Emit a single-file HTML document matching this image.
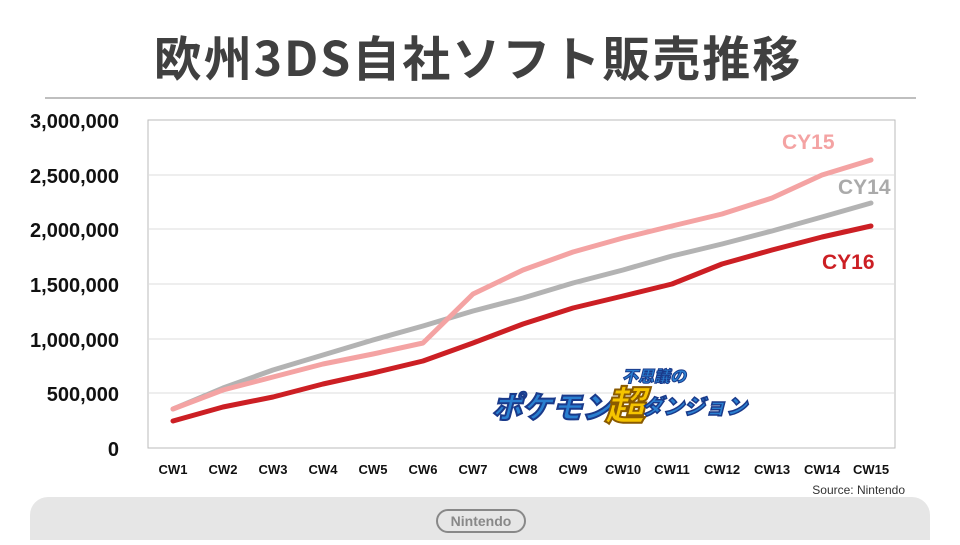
<!DOCTYPE html>
<html><head><meta charset="utf-8"><style>
body{margin:0;width:960px;height:540px;background:#fff;overflow:hidden;font-family:"Liberation Sans","Noto Sans CJK JP",sans-serif;}
</style></head><body>
<svg width="960" height="540" xmlns="http://www.w3.org/2000/svg" font-family="Liberation Sans, Noto Sans CJK JP, sans-serif">
<text x="478" y="76" text-anchor="middle" font-size="48" font-weight="bold" fill="#404040" letter-spacing="2" font-family="Noto Sans CJK JP, sans-serif">欧州3DS自社ソフト販売推移</text>
<line x1="45" y1="98" x2="916" y2="98" stroke="#aaa" stroke-width="1.5"/>
<rect x="148" y="120" width="747" height="328" fill="none" stroke="#bbb" stroke-width="1"/>
<g stroke="#ddd" stroke-width="1">
<line x1="148" y1="175" x2="895" y2="175"/><line x1="148" y1="229" x2="895" y2="229"/><line x1="148" y1="284" x2="895" y2="284"/><line x1="148" y1="339" x2="895" y2="339"/><line x1="148" y1="393" x2="895" y2="393"/></g>
<g font-size="20" font-weight="bold" fill="#111" text-anchor="end">
<text x="119" y="128">3,000,000</text><text x="119" y="183">2,500,000</text><text x="119" y="237">2,000,000</text><text x="119" y="292">1,500,000</text><text x="119" y="347">1,000,000</text><text x="119" y="401">500,000</text><text x="119" y="456">0</text></g>
<g font-size="13" font-weight="bold" fill="#111" text-anchor="middle">
<text x="173" y="474">CW1</text><text x="223" y="474">CW2</text><text x="273" y="474">CW3</text><text x="323" y="474">CW4</text><text x="373" y="474">CW5</text><text x="423" y="474">CW6</text><text x="473" y="474">CW7</text><text x="523" y="474">CW8</text><text x="573" y="474">CW9</text><text x="623" y="474">CW10</text><text x="672" y="474">CW11</text><text x="722" y="474">CW12</text><text x="772" y="474">CW13</text><text x="822" y="474">CW14</text><text x="871" y="474">CW15</text></g>
<g fill="none" stroke-width="5" stroke-linejoin="round" stroke-linecap="round">
<polyline stroke="#b3b3b3" points="173,409 223,388 273,370 323,355 373,340 423,326 473,311 523,298 573,283 623,270 672,256 722,244 772,231 822,217 871,203"/>
<polyline stroke="#f4a3a3" points="173,409 223,390 273,377 323,364 373,354 423,343 473,294 523,270 573,252 623,238 672,226 722,214 772,198 822,175 871,160"/>
<polyline stroke="#cc1f24" points="173,421 223,407 273,397 323,384 373,373 423,361 473,343 523,324 573,308 623,296 672,284 722,264 772,250 822,237 871,226"/>
</g>
<text x="782" y="149" font-size="21" font-weight="bold" fill="#f4a3a3">CY15</text>
<text x="838" y="194" font-size="21" font-weight="bold" fill="#aaa">CY14</text>
<text x="822" y="269" font-size="21" font-weight="bold" fill="#cc1f24">CY16</text>
<g font-family="Noto Sans CJK JP, sans-serif" font-weight="900" font-style="italic">
<text x="492" y="418" font-size="30" fill="#2a7fd0" stroke="#1a3a8a" stroke-width="2">ポケモン</text>
<text x="605" y="420" font-size="40" fill="#f5c400" stroke="#8a5a00" stroke-width="2">超</text>
<text x="622" y="382" font-size="16" fill="#2a7fd0" stroke="#1a3a8a" stroke-width="1">不思議の</text>
<text x="642" y="414" font-size="21" fill="#2a7fd0" stroke="#1a3a8a" stroke-width="1.5">ダンジョン</text>
</g>
<text x="905" y="494" font-size="12" fill="#333" text-anchor="end">Source: Nintendo</text>
<rect x="30" y="497" width="900" height="60" rx="18" fill="#e6e6e6"/>
<rect x="437" y="510" width="88" height="22" rx="11" fill="none" stroke="#888" stroke-width="2"/>
<text x="481" y="526" font-size="14" font-weight="bold" fill="#888" text-anchor="middle">Nintendo</text>
</svg>
</body></html>
